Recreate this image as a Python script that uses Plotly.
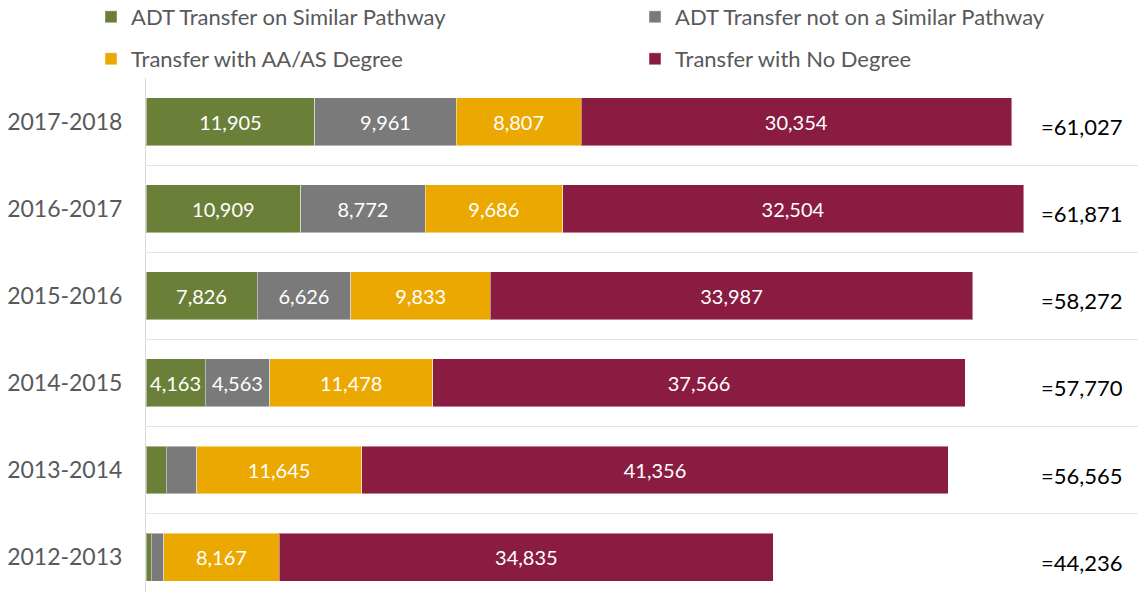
import plotly.graph_objects as go

years = ["2012-2013", "2013-2014", "2014-2015", "2015-2016", "2016-2017", "2017-2018"]
adt_similar = [380, 1420, 4163, 7826, 10909, 11905]
adt_not_similar = [854, 2144, 4563, 6626, 8772, 9961]
aa_as_degree = [8167, 11645, 11478, 9833, 9686, 8807]
no_degree = [34835, 41356, 37566, 33987, 32504, 30354]
totals = [44236, 56565, 57770, 58272, 61871, 61027]

series_names = ["ADT Transfer on Similar Pathway", "ADT Transfer not on a Similar Pathway",
                "Transfer with AA/AS Degree", "Transfer with No Degree"]
series_values = [adt_similar, adt_not_similar, aa_as_degree, no_degree]
colors = ["#6a7f37", "#7a7a7a", "#eba800", "#891c40"]
legend_ids = ["legend", "legend2", "legend3", "legend4"]
legend_pos = [(91, 17), (635, 17), (91, 59), (635, 59)]

FONT = "Lato"
fig = go.Figure()
for name, vals, color, lg in zip(series_names, series_values, colors, legend_ids):
    fig.add_trace(go.Bar(
        y=years, x=vals, name=name, orientation="h",
        marker=dict(color=color, line=dict(color="rgba(255,255,255,0.45)", width=1)),
        width=0.55,
        text=[f"{v:,}" if v >= 3000 else "" for v in vals],
        textposition="inside", insidetextanchor="middle", textangle=0,
        textfont=dict(family=FONT, size=20, color="white"),
        hoverinfo="x+name", legend=lg,
    ))

for y, t in zip(years, totals):
    fig.add_annotation(x=62940, y=y, text=f"={t:,}", showarrow=False,
                       xanchor="left", yanchor="middle", yshift=-5,
                       font=dict(family=FONT, size=22, color="#000000"))

legends = {}
for lg, (px, py) in zip(legend_ids, legend_pos):
    legends[lg] = dict(orientation="h", xref="container", yref="container",
                       x=px / 1138, y=1 - py / 592, xanchor="left", yanchor="middle",
                       font=dict(family=FONT, size=22, color="#595959"),
                       bgcolor="rgba(0,0,0,0)")

fig.update_layout(
    width=1138, height=592,
    margin=dict(l=146, r=0, t=78, b=0, autoexpand=False),
    barmode="stack",
    plot_bgcolor="white", paper_bgcolor="white",
    xaxis=dict(range=[0, 69940], showgrid=False, zeroline=False, showticklabels=False,
               showline=False),
    yaxis=dict(type="category", categoryorder="array", categoryarray=years,
               range=[-0.40, 5.5], tickson="boundaries", showgrid=True,
               gridcolor="#e3e3e3", gridwidth=1, ticks="", ticklabelstandoff=18,
               showline=True, linecolor="#d9d9d9", linewidth=1,
               tickfont=dict(family=FONT, size=23, color="#595959")),
    showlegend=True,
    **legends,
)

fig.write_html("out.html", config={"displayModeBar": False},
               post_script="document.body.style.margin='0px';document.body.style.overflow='hidden';")
